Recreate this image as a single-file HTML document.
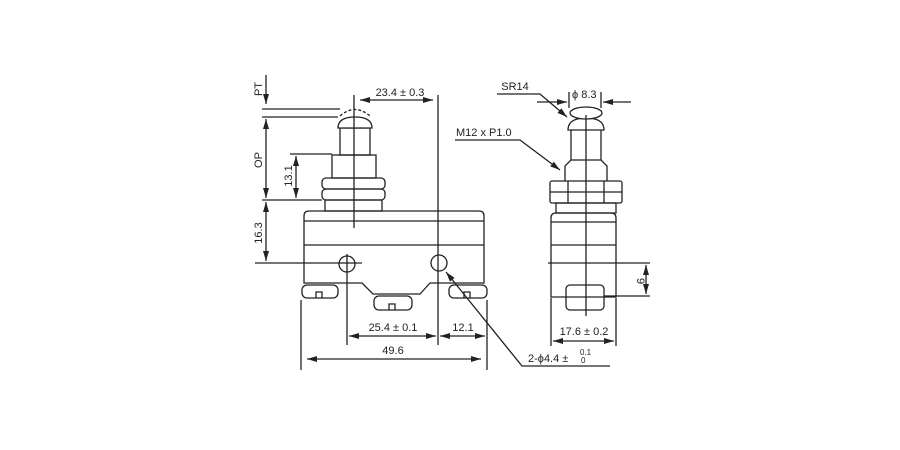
<!DOCTYPE html>
<html><head><meta charset="utf-8"><style>html,body{margin:0;padding:0;background:#fff}svg{display:block}text{font-family:"Liberation Sans",sans-serif;font-size:11px;fill:#222}</style></head><body>
<svg width="900" height="450" viewBox="0 0 900 450" xmlns="http://www.w3.org/2000/svg">
<defs><marker id="a" viewBox="0 0 10 6" refX="10" refY="3" markerWidth="10" markerHeight="6" orient="auto-start-reverse" markerUnits="userSpaceOnUse"><path d="M0,0L10,3L0,6z" fill="#222"/></marker></defs>
<g fill="none" stroke="#222" stroke-width="1.3">
<path d="M304,283 V216 Q304,211 309,211 H479 Q484,211 484,216 V283 H430 L420,294 H373 L362,283 Z" fill="#fff"/>
<line x1="304" y1="221" x2="484" y2="221"/><line x1="304" y1="245" x2="484" y2="245"/>
<circle cx="347" cy="264" r="8"/><circle cx="439" cy="263" r="8"/>
<rect x="302" y="285" width="36" height="13" rx="5"/><path d="M316,298v-6h6v6"/>
<rect x="374" y="296" width="38" height="14" rx="5"/><path d="M389,310v-6h6v6"/>
<rect x="449" y="285" width="38" height="13" rx="5"/><path d="M464,298v-6h6v6"/>
<rect x="325" y="200" width="57" height="11"/>
<rect x="322" y="178" width="63" height="11" rx="4"/><rect x="322" y="189" width="63" height="11" rx="4"/>
<rect x="332" y="155" width="44" height="23"/>
<rect x="340" y="128" width="30" height="27"/>
<path d="M338,128 Q338,117 355,117 Q372,117 372,128 Z" fill="#fff"/>
<path d="M340,116 Q355,103 370,116" stroke-dasharray="3,2"/>
<line x1="354" y1="95" x2="354" y2="228"/>
<line x1="438" y1="95" x2="438" y2="345"/>
<line x1="360" y1="100" x2="433" y2="100" marker-start="url(#a)" marker-end="url(#a)"/>
<line x1="266" y1="75" x2="266" y2="104" marker-end="url(#a)"/>
<line x1="262" y1="109" x2="340" y2="109"/><line x1="262" y1="117" x2="338" y2="117"/>
<line x1="266" y1="119" x2="266" y2="198" marker-start="url(#a)" marker-end="url(#a)"/>
<line x1="262" y1="200" x2="322" y2="200"/>
<line x1="290" y1="154" x2="332" y2="154"/>
<line x1="296" y1="156" x2="296" y2="198" marker-start="url(#a)" marker-end="url(#a)"/>
<line x1="266" y1="202" x2="266" y2="261" marker-start="url(#a)" marker-end="url(#a)"/>
<line x1="255" y1="263" x2="362" y2="263"/>
<line x1="347" y1="254" x2="347" y2="345"/>
<line x1="301" y1="300" x2="301" y2="370"/><line x1="487" y1="300" x2="487" y2="370"/>
<line x1="349" y1="336" x2="436" y2="336" marker-start="url(#a)" marker-end="url(#a)"/>
<line x1="440" y1="336" x2="485" y2="336" marker-start="url(#a)" marker-end="url(#a)"/>
<line x1="307" y1="359" x2="481" y2="359" marker-start="url(#a)" marker-end="url(#a)"/>
<path d="M610,366 H522 L446,272" marker-end="url(#a)"/>
<path d="M551,297 V218 Q551,213 556,213 H611 Q616,213 616,218 V297 Z" fill="#fff"/>
<line x1="551" y1="222" x2="616" y2="222"/><line x1="551" y1="245" x2="616" y2="245"/>
<rect x="566" y="285" width="38" height="25" rx="4" fill="#fff"/><line x1="566" y1="297" x2="604" y2="297"/>
<rect x="556" y="203" width="60" height="10"/>
<rect x="550" y="181" width="72" height="22" rx="2"/><line x1="568" y1="181" x2="568" y2="203"/><line x1="604" y1="181" x2="604" y2="203"/><line x1="550" y1="192" x2="622" y2="192"/>
<path d="M565,181 V166 L571,160 H601 L607,166 V181"/>
<path d="M571,160 V130 M601,160 V130"/>
<path d="M568,130 Q568,118 586,118 Q604,118 604,130 Z" fill="#fff"/>
<ellipse cx="586" cy="113" rx="16" ry="6" fill="#fff"/>
<line x1="586" y1="115" x2="586" y2="316"/>
<line x1="548" y1="263" x2="650" y2="263"/><line x1="604" y1="296" x2="650" y2="296"/>
<line x1="646" y1="265" x2="646" y2="294" marker-start="url(#a)" marker-end="url(#a)"/>
<line x1="551" y1="298" x2="551" y2="346"/><line x1="616" y1="298" x2="616" y2="346"/>
<line x1="553" y1="341" x2="614" y2="341" marker-start="url(#a)" marker-end="url(#a)"/>
<line x1="569" y1="92" x2="569" y2="108"/><line x1="601" y1="92" x2="601" y2="108"/>
<line x1="537" y1="102" x2="567" y2="102" marker-end="url(#a)"/>
<line x1="631" y1="102" x2="603" y2="102" marker-end="url(#a)"/>
<path d="M497,94 H540 L567,117" marker-end="url(#a)"/>
<path d="M455,140 H520 L560,170" marker-end="url(#a)"/>
</g>
<text x="400" y="96" text-anchor="middle">23.4 ± 0.3</text>
<text transform="translate(262,89) rotate(-90)" text-anchor="middle">PT</text>
<text transform="translate(262,160) rotate(-90)" text-anchor="middle">OP</text>
<text transform="translate(292,176) rotate(-90)" text-anchor="middle">13.1</text>
<text transform="translate(262,233) rotate(-90)" text-anchor="middle">16.3</text>
<text x="393" y="331" text-anchor="middle">25.4 ± 0.1</text>
<text x="463" y="331" text-anchor="middle">12.1</text>
<text x="393" y="354" text-anchor="middle">49.6</text>
<text x="528" y="362">2-ϕ4.4 ±</text>
<text x="580" y="355" style="font-size:8px">0.1</text>
<text x="581" y="363" style="font-size:8px">0</text>
<text x="515" y="90" text-anchor="middle">SR14</text>
<text x="572" y="98">ϕ 8.3</text>
<text x="456" y="136">M12 x P1.0</text>
<text transform="translate(637,281) rotate(90)" text-anchor="middle">9</text>
<text x="584" y="335" text-anchor="middle">17.6 ± 0.2</text>
</svg>
</body></html>
